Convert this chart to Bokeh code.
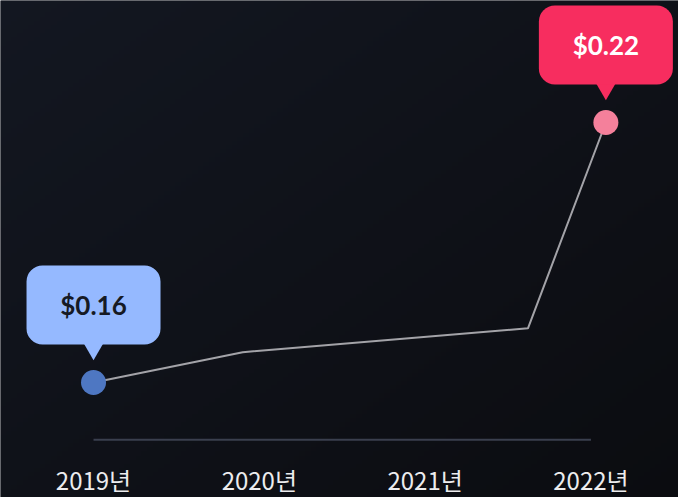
import numpy as np
from bokeh.plotting import figure
from bokeh.models import Range1d, ColumnDataSource
from bokeh.embed import file_html
from bokeh.resources import INLINE
from bokeh.core.properties import value

# ---- data ----
years = [2019, 2020, 2021, 2022]
tick_labels = ["2019년", "2020년", "2021년", "2022년"]
point_x = [2019.0, 2019.9, 2021.62, 2022.09]
point_y = [0.16, 0.167, 0.1725, 0.22]
axis_y = 0.1468
callout_idx = [0, 3]
callout_text = ["$0.16", "$0.22"]
callout_fill = ["#95b9ff", "#f72d5f"]
callout_text_color = ["#161a24", "#ffffff"]
marker_fill = ["#4e77c2", "#f4809b"]

W, H = 678, 497
x0, x1 = 2018.439, 2022.528
y0, y1 = 0.133462, 0.248154
ypx = H / (y1 - y0)  # pixels per data unit (y)

p = figure(width=W, height=H, output_backend="svg", toolbar_location=None,
           x_range=Range1d(x0, x1), y_range=Range1d(y0, y1),
           min_border=0)
bg = "#0f1118"
p.background_fill_color = bg
p.border_fill_color = bg
p.outline_line_color = None
p.grid.visible = False
p.axis.visible = False

# subtle diagonal background gradient (top-left lighter, bottom-right darker)
n = 120
gy, gx = np.mgrid[0:n, 0:n] / (n - 1)
t = (gx + (1 - gy)) / 2  # 0 at top-left (row index 0 = bottom in image coords)
t = (gx + (1.0 - gy)) / 2.0
c_tl = np.array([0x13, 0x17, 0x21])
c_br = np.array([0x0b, 0x0c, 0x10])
img = np.zeros((n, n), dtype=np.uint32)
view = img.view(dtype=np.uint8).reshape((n, n, 4))
for k in range(3):
    view[:, :, k] = (c_tl[k] + (c_br[k] - c_tl[k]) * t).round().astype(np.uint8)
view[:, :, 3] = 255
p.image_rgba(image=[img], x=x0, y=y0, dw=x1 - x0, dh=y1 - y0)

# baseline (x axis line) and tick labels
p.segment(x0=[years[0]], y0=[axis_y], x1=[years[-1]], y1=[axis_y],
          line_color="#3a3f4e", line_width=2)
p.text(x=years, y=[axis_y] * len(years), text=tick_labels, y_offset=40,
       text_align="center", text_baseline="middle", text_color="#ececee",
       text_font=value("Noto Sans CJK KR"), text_font_size="24px")

# line
p.line(point_x, point_y, line_color="#a3a3a8", line_width=2)

cx = [point_x[i] for i in callout_idx]
cy = [point_y[i] for i in callout_idx]

# pointer triangles
p.scatter(cx, [y + 35 / ypx for y in cy], marker="inverted_triangle",
          size=22, fill_color=callout_fill, line_color=None)

# bubbles
src = ColumnDataSource(dict(x=cx, y=[y + 77.5 / ypx for y in cy], fill=callout_fill,
                            txt=callout_text, tc=callout_text_color))
p.rect(x="x", y="y", width=134, height=79, width_units="screen", height_units="screen",
       fill_color="fill", line_color=None, border_radius=16, source=src)
p.text(x="x", y="y", text="txt", text_color="tc", text_align="center",
       text_baseline="middle", text_font=value("Lato"), text_font_style="bold",
       text_font_size="26px", source=src)

# markers
p.scatter(cx, cy, size=25, fill_color=marker_fill, line_color=None)

open("out.html", "w").write(file_html(p, INLINE))
